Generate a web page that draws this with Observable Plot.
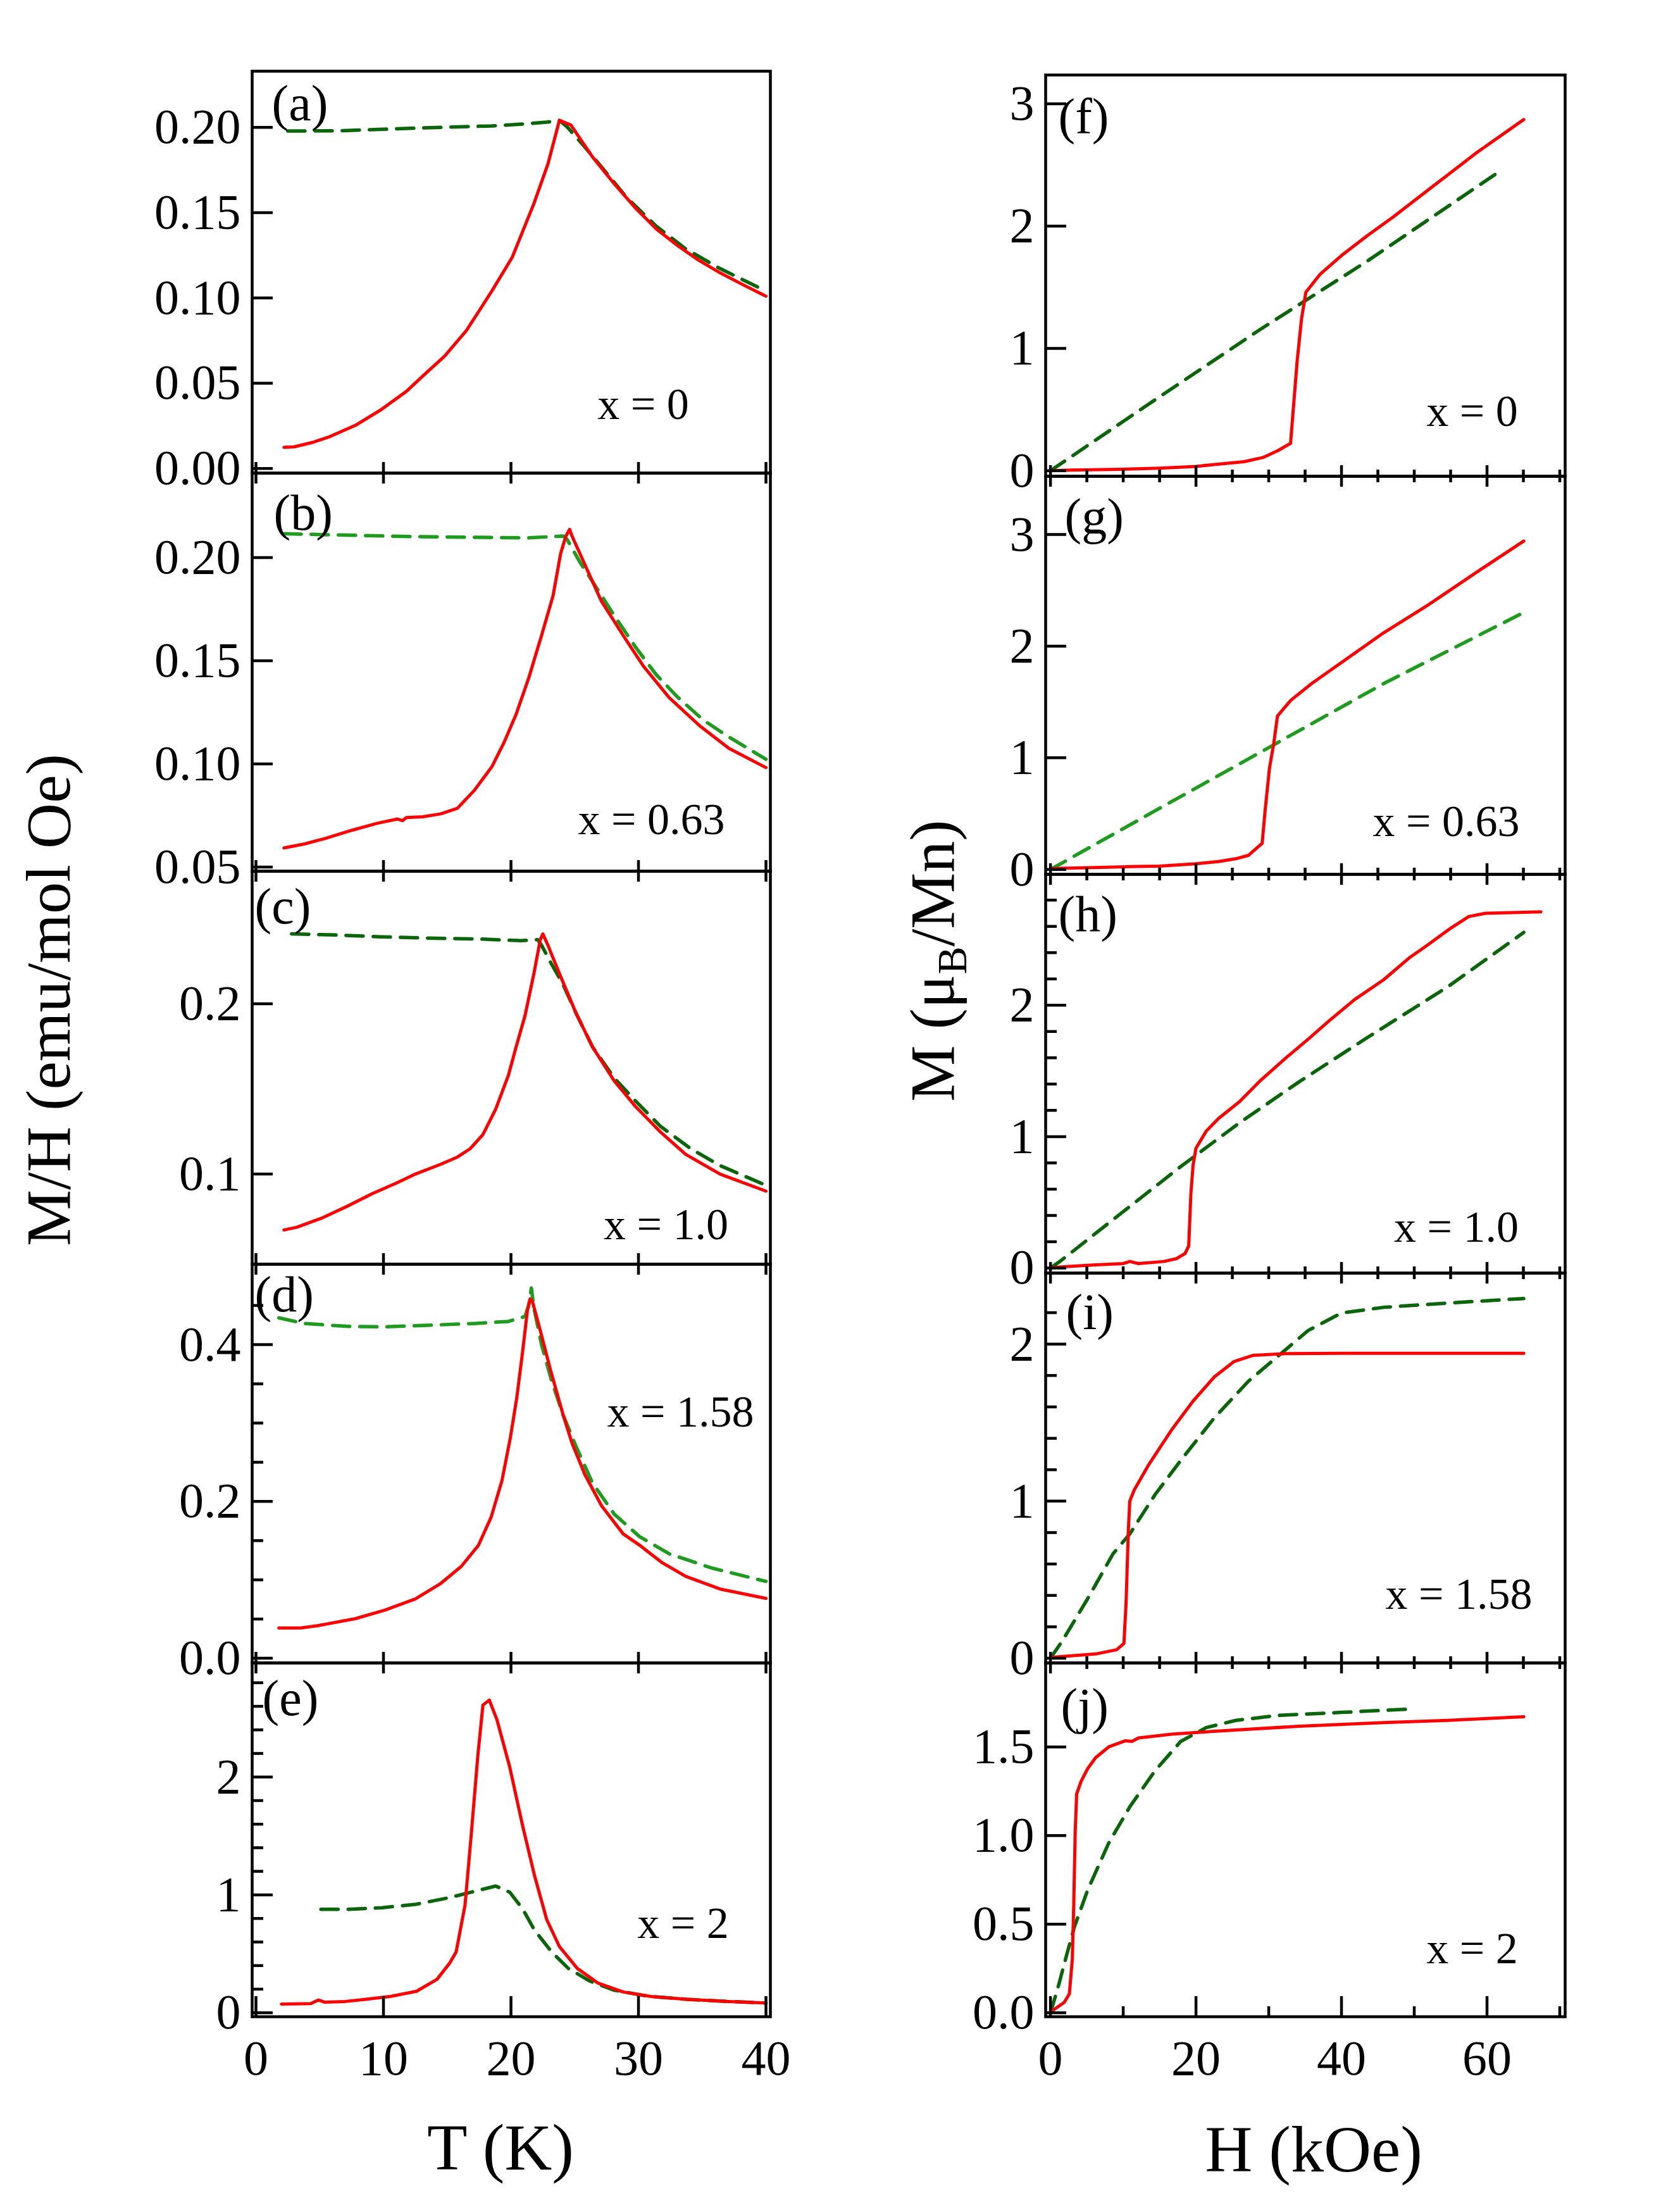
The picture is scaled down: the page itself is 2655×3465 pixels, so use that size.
<!DOCTYPE html>
<html>
<head>
<meta charset="utf-8">
<script src="https://cdn.jsdelivr.net/npm/d3@7"></script>
<script src="https://cdn.jsdelivr.net/npm/@observablehq/plot@0.6"></script>
<style>
  html, body { margin: 0; padding: 0; background: #fff; overflow: hidden; }
  #fig { position: relative; width: 2655px; height: 3465px; background: #fff; overflow: hidden; }
  #fig > svg { position: absolute; }
</style>
</head>
<body>
<div id="fig"></div>
<script>
// ---------- M/H versus T (K): solid = red curve, dashed = green curve ----------
const a_solid = [[2.2,0.0124],[3.0,0.0127],[4.5,0.0154],[5.8,0.0187],[7.8,0.0253],[9.8,0.0344],[11.8,0.0452],[13.1,0.0543],[14.8,0.0659],[16.5,0.0808],[18.5,0.104],[20.1,0.1238],[21.8,0.1553],[22.9,0.1785],[23.8,0.2041],[24.7,0.2013],[26.4,0.1826],[28.1,0.1669],[29.75,0.1528],[31.4,0.1404],[33.1,0.1305],[34.7,0.1222],[36.4,0.1147],[38.1,0.1081],[40.0,0.101]];
const a_dashed = [[2.5,0.1978],[6.5,0.198],[10.5,0.199],[14.5,0.2],[18.5,0.2008],[21.1,0.202],[22.8,0.203],[23.8,0.2041],[24.4,0.2003],[25.8,0.1884],[27.1,0.1768],[29.1,0.1586],[31.4,0.142],[33.7,0.1288],[36.4,0.1172],[40.0,0.104]];

const b_solid = [[2.2,0.0593],[3.8,0.0612],[5.5,0.064],[7.5,0.0678],[9.5,0.0712],[11.1,0.0733],[11.5,0.0725],[11.8,0.074],[13.1,0.0744],[14.5,0.0758],[15.8,0.0785],[17.1,0.087],[18.5,0.0986],[19.45,0.1103],[20.4,0.124],[21.4,0.1418],[22.4,0.1623],[23.3,0.1815],[23.9,0.2021],[24.3,0.2103],[24.6,0.2137],[24.8,0.2103],[25.8,0.1966],[27.1,0.1788],[28.8,0.1623],[30.4,0.1473],[32.4,0.1322],[34.8,0.1185],[37.1,0.1075],[40.0,0.0982]];
const b_dashed = [[2.2,0.2116],[6.5,0.211],[11.5,0.2103],[16.5,0.2099],[21.4,0.2096],[24.1,0.2105],[24.4,0.2089],[25.4,0.1979],[26.4,0.1884],[28.1,0.1719],[29.75,0.1568],[31.4,0.1432],[33.1,0.1322],[35.1,0.1212],[37.1,0.113],[40.0,0.1023]];

const c_solid = [[2.2,0.0672],[3.2,0.0688],[5.2,0.0743],[7.1,0.0809],[9.1,0.0884],[11.1,0.095],[12.5,0.1],[14.5,0.1058],[15.8,0.11],[16.8,0.1149],[17.8,0.1232],[18.8,0.1381],[19.8,0.158],[20.4,0.1746],[21.1,0.1929],[21.8,0.2177],[22.3,0.2376],[22.5,0.241],[22.9,0.2343],[23.8,0.2177],[25.1,0.1945],[26.4,0.1746],[28.1,0.1547],[29.75,0.1398],[31.7,0.1249],[33.7,0.1116],[36.4,0.1],[40.0,0.09]];
const c_dashed = [[2.8,0.241],[6.5,0.2403],[9.8,0.2393],[13.1,0.2386],[17.45,0.238],[20.8,0.237],[22.1,0.2376],[22.4,0.2343],[23.1,0.2244],[24.1,0.2111],[25.1,0.1945],[26.4,0.1746],[28.1,0.1564],[29.75,0.1431],[31.7,0.1282],[34.1,0.1149],[36.4,0.105],[40.0,0.0934]];

const d_solid = [[1.8,0.0386],[3.5,0.0386],[4.8,0.0414],[7.8,0.0505],[10.1,0.0613],[12.5,0.0757],[14.5,0.0955],[16.1,0.1171],[17.45,0.1441],[18.45,0.1802],[19.3,0.227],[19.95,0.2811],[20.45,0.3315],[20.9,0.3892],[21.3,0.445],[21.5,0.4584],[21.7,0.454],[22.3,0.418],[23.1,0.3676],[24.1,0.3099],[24.8,0.2739],[25.8,0.2342],[27.1,0.1946],[28.8,0.1586],[30.1,0.1441],[31.8,0.1225],[33.7,0.1045],[36.4,0.0883],[40.0,0.0764]];
const d_dashed = [[1.8,0.4342],[3.8,0.427],[7.1,0.4234],[9.8,0.4227],[13.1,0.4245],[17.1,0.427],[19.8,0.4296],[21.1,0.436],[21.4,0.4505],[21.6,0.4721],[21.8,0.4468],[22.4,0.4],[23.2,0.3532],[24.1,0.3099],[25.1,0.2703],[26.4,0.2234],[28.1,0.1838],[30.1,0.155],[32.4,0.1333],[35.7,0.1153],[40.0,0.098]];

const e_solid = [[2.0,0.074],[4.3,0.077],[4.9,0.108],[5.4,0.089],[7.0,0.0955],[8.6,0.114],[10.6,0.139],[12.6,0.182],[14.2,0.2835],[15.2,0.422],[15.7,0.515],[16.4,0.915],[16.9,1.532],[17.4,2.179],[17.8,2.61],[18.3,2.653],[18.9,2.487],[19.9,2.086],[20.9,1.593],[21.85,1.162],[22.8,0.792],[23.8,0.561],[25.2,0.376],[26.8,0.253],[28.8,0.176],[31.1,0.136],[33.8,0.114],[37.1,0.0955],[40.0,0.083]];
const e_dashed = [[5.1,0.878],[7.3,0.878],[9.9,0.891],[12.6,0.921],[15.2,0.977],[17.2,1.032],[18.8,1.075],[19.9,1.023],[20.9,0.884],[21.85,0.7],[23.2,0.515],[24.5,0.376],[26.2,0.268],[28.1,0.191],[30.8,0.139],[33.8,0.114],[37.1,0.0955],[40.0,0.083]];

// ---------- M versus H (kOe) ----------
const f_solid = [[0,0],[2.7,0.005],[9.7,0.012],[15,0.021],[20,0.035],[22.5,0.051],[26.6,0.074],[29.2,0.108],[31.3,0.166],[33.0,0.224],[33.9,0.893],[34.5,1.239],[35.1,1.459],[37.1,1.609],[40,1.759],[43.5,1.92],[47,2.07],[52.8,2.336],[58.6,2.601],[65.05,2.871]];
const f_dashed = [[0,0],[14.4,0.581],[28.9,1.158],[43.5,1.712],[62.1,2.462]];

const g_solid = [[0,0.008],[5.1,0.015],[10.9,0.025],[15,0.03],[20,0.051],[23.1,0.071],[25.5,0.096],[27.2,0.126],[29.1,0.235],[29.5,0.526],[30.1,0.906],[30.7,1.133],[31.2,1.374],[33.0,1.513],[35.9,1.665],[40,1.854],[45.8,2.12],[51.7,2.36],[58.6,2.664],[65.05,2.942]];
const g_dashed = [[0,0],[14.4,0.526],[30.1,1.095],[45.8,1.665],[65.05,2.302]];

const h_solid = [[0,0.002],[2.2,0.011],[6.2,0.024],[10,0.034],[10.9,0.05],[12.1,0.034],[15.6,0.05],[17.3,0.071],[18.5,0.11],[19.0,0.168],[19.3,0.567],[19.6,0.782],[20.0,0.912],[21.4,1.041],[23.1,1.138],[26.0,1.267],[28.9,1.429],[32.4,1.601],[35.4,1.741],[38.3,1.881],[41.8,2.043],[45.8,2.194],[49.3,2.36],[51.7,2.453],[54.9,2.582],[57.5,2.675],[59.8,2.7],[67.4,2.711]];
const h_dashed = [[0,0],[1.3,0.05],[9.7,0.416],[17.9,0.772],[26.0,1.106],[34.2,1.418],[43.5,1.752],[54.6,2.14],[65.05,2.554]];

const i_solid = [[0,0.005],[6.2,0.027],[9.1,0.054],[10.1,0.094],[10.4,0.36],[10.7,0.809],[10.9,1.0],[11.5,1.07],[13.5,1.232],[16.7,1.457],[19.6,1.637],[22.5,1.79],[25.2,1.888],[27.8,1.928],[32.4,1.939],[40,1.941],[65.05,1.941]];
const i_dashed = [[0,0],[1.6,0.108],[5.1,0.378],[8.6,0.665],[10.9,0.791],[14.4,1.043],[17.9,1.259],[22.5,1.529],[27.2,1.763],[31.3,1.924],[35.4,2.086],[40,2.198],[45.8,2.234],[54.6,2.261],[65.05,2.29]];

const j_solid = [[0,0.004],[1.9,0.059],[2.6,0.107],[3.0,0.301],[3.2,0.609],[3.4,1.018],[3.6,1.234],[4.2,1.305],[5.1,1.377],[6.2,1.439],[8.0,1.5],[10.3,1.535],[11.2,1.531],[12.1,1.551],[16.7,1.572],[22.5,1.588],[34.2,1.617],[45.8,1.637],[54.6,1.65],[65.05,1.67]];
const j_dashed = [[0,0],[1.0,0.137],[2.2,0.322],[3.3,0.486],[5.1,0.691],[8.0,0.957],[10.9,1.162],[14.4,1.367],[17.9,1.531],[21.4,1.609],[25.5,1.65],[31.3,1.678],[40,1.695],[50,1.715]];

// ---------- tick values and labels ----------
const tTicks = [0, 10, 20, 30, 40];
const hTicks = [0, 20, 40, 60];
const hMinor = [5, 10, 15, 25, 30, 35, 45, 50, 55, 65, 70];
const hMinorBottom = [10, 30, 50, 70];

const yTicksA = [0, 0.05, 0.10, 0.15, 0.20];
const yTicksB = [0.05, 0.10, 0.15, 0.20];
const yTicksC = [0.1, 0.2];
const yTicksD = [0, 0.2, 0.4];
const yMinorD = [0.05, 0.1, 0.15, 0.25, 0.3, 0.35, 0.45];
const yTicksE = [0, 1, 2];
const yMinorE = [0.2, 0.4, 0.6, 0.8, 1.2, 1.4, 1.6, 1.8, 2.2, 2.4, 2.6, 2.8];
const yTicksFG = [0, 1, 2, 3];
const yTicksH = [0, 1, 2];
const yMinorH = [0.2, 0.4, 0.6, 0.8, 1.2, 1.4, 1.6, 1.8, 2.2, 2.4, 2.6, 2.8];
const yTicksI = [0, 1, 2];
const yMinorI = [0.2, 0.4, 0.6, 0.8, 1.2, 1.4, 1.6, 1.8, 2.2];
const yTicksJ = [0, 0.5, 1.0, 1.5];

const panelTags = ["(a)", "(b)", "(c)", "(d)", "(e)", "(f)", "(g)", "(h)", "(i)", "(j)"];
const compositions = ["x = 0", "x = 0.63", "x = 1.0", "x = 1.58", "x = 2"];

// ---------- styling ----------
const SERIF = "'Liberation Serif', 'Times New Roman', Times, serif";
const RED = "#ff0000";
const DARK_GREEN = "#0b650b";
const LIGHT_GREEN = "#1f9c1f";

const leftCol = {svgLeft: 0, left: 398, right: 1217, xDomain: [-0.298, 40.347],
                 xMajor: tTicks, xMinor: [], xMinorBottom: []};
const rightCol = {svgLeft: 1300, left: 1652, right: 2473, xDomain: [-0.661, 70.74],
                  xMajor: hTicks, xMinor: hMinor, xMinorBottom: hMinorBottom};

const fig = document.getElementById("fig");

function panel(p) {
  const col = p.col;
  const fw = col.right - col.left;
  const fh = p.bottom - p.top;
  const mT = 60, mB = p.last ? 130 : 60, mR = 90;
  const mL = col.left - col.svgLeft;
  const xy = {x: d => d[0], y: d => d[1]};
  const up = p.last ? 32 : 17;       // tick length into the frame from the bottom axis
  const down = p.last ? 0 : -17;     // shared border: ticks cross the line
  const upMinor = p.last ? 16 : 10;
  const downMinor = p.last ? 0 : -10;
  const marks = [
    Plot.line(p.dashed, {...xy, stroke: p.green, strokeWidth: 5.5, strokeDasharray: "27,16"}),
    Plot.line(p.solid, {...xy, stroke: RED, strokeWidth: 5, strokeLinejoin: "round"}),
    Plot.tickY(p.yMajor, {y: d => d, stroke: "black", strokeWidth: 4.5, insetRight: fw - 33}),
    Plot.tickY(p.yMinor || [], {y: d => d, stroke: "black", strokeWidth: 4.5, insetRight: fw - 18}),
    Plot.tickX(col.xMajor, {x: d => d, stroke: "black", strokeWidth: 4.5, insetTop: fh - up, insetBottom: down}),
    Plot.tickX(p.last ? col.xMinorBottom : col.xMinor, {x: d => d, stroke: "black", strokeWidth: 4.5, insetTop: fh - upMinor, insetBottom: downMinor}),
    Plot.axisY(p.yMajor, {tickSize: 0, tickPadding: 18, tickFormat: p.yFormat, fontSize: 78, fontFamily: SERIF, label: null}),
    Plot.frame({stroke: "black", strokeWidth: 4.5}),
    Plot.text([p.tag], {text: d => d, frameAnchor: "top-left", dx: p.tagDx, dy: p.tagDy,
                        textAnchor: "start", lineAnchor: "bottom", fontSize: 80, fontFamily: SERIF, fill: "black"}),
    Plot.text([p.comp], {text: d => d, frameAnchor: "top-left", dx: p.compDx, dy: p.compDy,
                         textAnchor: "middle", lineAnchor: "bottom", fontSize: 70, fontFamily: SERIF, fill: "black"})
  ];
  if (p.last) {
    marks.push(Plot.axisX(col.xMajor, {tickSize: 0, tickPadding: 36, tickFormat: d3.format("d"),
                                        fontSize: 78, fontFamily: SERIF, label: null}));
  }
  const svg = Plot.plot({
    width: mL + fw + mR,
    height: mT + fh + mB,
    marginLeft: mL, marginRight: mR, marginTop: mT, marginBottom: mB,
    x: p.last ? {domain: col.xDomain} : {domain: col.xDomain, axis: null},
    y: {domain: p.yDomain},
    style: {background: "transparent", overflow: "visible", fontFamily: SERIF, fontSize: "78px", color: "black"},
    marks
  });
  svg.style.left = col.svgLeft + "px";
  svg.style.top = (p.top - mT) + "px";
  fig.appendChild(svg);
}

const f2 = d3.format(".2f"), f1 = d3.format(".1f"), f0 = d3.format("d");

const panels = [
  {col: leftCol, top: 112, bottom: 747, yDomain: [-0.0027, 0.2329], yMajor: yTicksA, yFormat: f2,
   solid: a_solid, dashed: a_dashed, green: DARK_GREEN, tag: panelTags[0], tagDx: 31, tagDy: 77,
   comp: compositions[0], compDx: 618, compDy: 549},
  {col: leftCol, top: 747, bottom: 1376, yDomain: [0.048, 0.241], yMajor: yTicksB, yFormat: f2,
   solid: b_solid, dashed: b_dashed, green: LIGHT_GREEN, tag: panelTags[1], tagDx: 34, tagDy: 89,
   comp: compositions[1], compDx: 631, compDy: 570},
  {col: leftCol, top: 1376, bottom: 1997, yDomain: [0.0471, 0.2778], yMajor: yTicksC, yFormat: f1,
   solid: c_solid, dashed: c_dashed, green: DARK_GREEN, tag: panelTags[2], tagDx: 4, tagDy: 82,
   comp: compositions[2], compDx: 654, compDy: 581},
  {col: leftCol, top: 1997, bottom: 2627, yDomain: [-0.006, 0.5026], yMajor: yTicksD, yMinor: yMinorD, yFormat: f1,
   solid: d_solid, dashed: d_dashed, green: LIGHT_GREEN, tag: panelTags[3], tagDx: 4, tagDy: 74,
   comp: compositions[3], compDx: 677, compDy: 256},
  {col: leftCol, top: 2627, bottom: 3186, yDomain: [-0.034, 2.968], yMajor: yTicksE, yMinor: yMinorE, yFormat: f0,
   solid: e_solid, dashed: e_dashed, green: DARK_GREEN, tag: panelTags[4], tagDx: 16, tagDy: 82,
   comp: compositions[4], compDx: 681, compDy: 434, last: true},

  {col: rightCol, top: 118, bottom: 752, yDomain: [-0.045, 3.235], yMajor: yTicksFG, yFormat: f0,
   solid: f_solid, dashed: f_dashed, green: DARK_GREEN, tag: panelTags[5], tagDx: 20, tagDy: 92,
   comp: compositions[0], compDx: 674, compDy: 554},
  {col: rightCol, top: 752, bottom: 1381, yDomain: [-0.044, 3.522], yMajor: yTicksFG, yFormat: f0,
   solid: g_solid, dashed: g_dashed, green: LIGHT_GREEN, tag: panelTags[6], tagDx: 30, tagDy: 90,
   comp: compositions[1], compDx: 633, compDy: 568},
  {col: rightCol, top: 1381, bottom: 2011, yDomain: [-0.0385, 2.996], yMajor: yTicksH, yMinor: yMinorH, yFormat: f0,
   solid: h_solid, dashed: h_dashed, green: DARK_GREEN, tag: panelTags[7], tagDx: 20, tagDy: 89,
   comp: compositions[2], compDx: 649, compDy: 580},
  {col: rightCol, top: 2011, bottom: 2627, yDomain: [-0.03, 2.452], yMajor: yTicksI, yMinor: yMinorI, yFormat: f0,
   solid: i_solid, dashed: i_dashed, green: DARK_GREEN, tag: panelTags[8], tagDx: 32, tagDy: 88,
   comp: compositions[3], compDx: 653, compDy: 530},
  {col: rightCol, top: 2627, bottom: 3186, yDomain: [-0.0225, 1.974], yMajor: yTicksJ, yFormat: f1,
   solid: j_solid, dashed: j_dashed, green: DARK_GREEN, tag: panelTags[9], tagDx: 24, tagDy: 95,
   comp: compositions[4], compDx: 674, compDy: 474, last: true}
];

panels.forEach(panel);

// ---------- axis titles ----------
const titles = d3.select(fig).append("svg")
  .attr("width", 2655).attr("height", 3465)
  .style("left", "0px").style("top", "0px")
  .style("font-family", SERIF).style("pointer-events", "none");

titles.append("text")
  .attr("transform", "translate(110,1580) rotate(-90)")
  .attr("text-anchor", "middle").attr("font-size", 100).attr("fill", "black")
  .text("M/H (emu/mol Oe)");

const mTitle = titles.append("text")
  .attr("transform", "translate(1507,1518) rotate(-90)")
  .attr("text-anchor", "middle").attr("font-size", 100).attr("fill", "black");
mTitle.append("tspan").text("M (\u03bc");
mTitle.append("tspan").attr("font-size", 66).attr("dy", 20).text("B");
mTitle.append("tspan").attr("dy", -20).text("/Mn)");

titles.append("text")
  .attr("x", 791).attr("y", 3428)
  .attr("text-anchor", "middle").attr("font-size", 104).attr("fill", "black")
  .text("T (K)");

titles.append("text")
  .attr("x", 2076).attr("y", 3431)
  .attr("text-anchor", "middle").attr("font-size", 104).attr("fill", "black")
  .text("H (kOe)");
</script>
</body>
</html>
